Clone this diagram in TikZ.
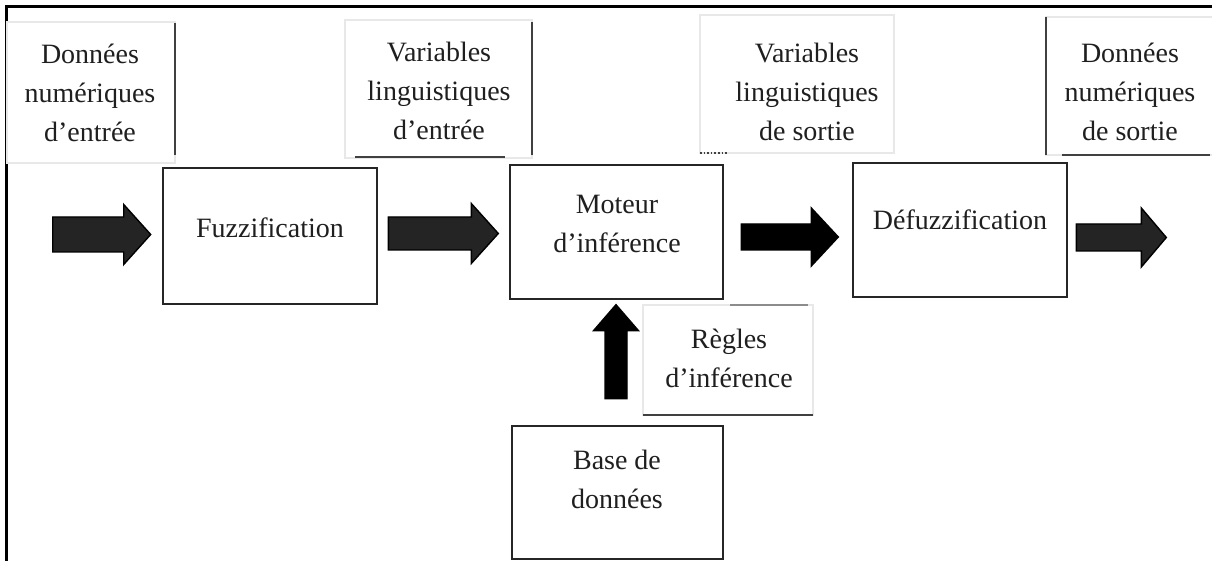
\documentclass[tikz,border=0pt]{standalone}
\usepackage{fontspec}
\setmainfont{Liberation Serif}
\usetikzlibrary{calc}

% block arrow pointing right: start, length, half body, half head, head length
\newcommand\blockarrowR[6][]{%
  \filldraw[blockarrow, #1, shift={(#2)}] (0,-#4) -- (#3-#6,-#4) -- (#3-#6,-#5) -- (#3,0)
    -- (#3-#6,#5) -- (#3-#6,#4) -- (0,#4) -- cycle;}
% block arrow pointing up: base centre, length, half body, half head, head length
\newcommand\blockarrowU[6][]{%
  \filldraw[blockarrow, #1, shift={(#2)}] (-#4,0) -- (-#4,-#3+#6) -- (-#5,-#3+#6) -- (0,-#3)
    -- (#5,-#3+#6) -- (#4,-#3+#6) -- (#4,0) -- cycle;}

\tikzset{
  txt/.style={font=\fontsize{28}{39}\selectfont, text=black!88, align=center, inner sep=0pt},
  mainbox/.style={draw=black!85, line width=2.6pt, fill=white, inner sep=0pt},
  faintbox/.style={draw=black!9, line width=1.2pt},
  darkedge/.style={draw=black!75, line width=1.6pt},
  blockarrow/.style={fill=black!86, draw=black, line width=1.4pt, line join=miter},
  solidarrow/.style={fill=black},
}

\begin{document}
\begin{tikzpicture}[x=1pt, y=-1pt]
\useasboundingbox (0,0) rectangle (1212,561);
\fill[white] (0,0) rectangle (1212,561);

% outer frame (top and left sides)
\draw[line width=2.6pt, black] (6.7,562) -- (6.7,6.7) -- (1213,6.7);

% ---- label frames above the chain ----
\draw[faintbox] (7,22) rectangle (175,163);
\draw[darkedge] (175,23) -- (175,155);
\node[txt] (din) at (90,93) {Données\\numériques\\d’entrée};

\draw[faintbox] (345,20) rectangle (532,158);
\draw[darkedge] (532,22) -- (532,155);
\draw[darkedge] (355,157) -- (505,157);
\node[txt] (vle) at (439,91) {Variables\\linguistiques\\d’entrée};

\draw[faintbox] (700,15) rectangle (894,153);
\draw[darkedge, dotted] (700,153) -- (728,153);
\node[txt] (vls) at (807,91.5) {Variables\\linguistiques\\de sortie};

\draw[faintbox] (1046,17) rectangle (1214,155);
\draw[darkedge] (1046,17) -- (1046,155);
\draw[darkedge] (1062,155) -- (1210,155);
\node[txt] (dns) at (1130,91.5) {Données\\numériques\\de sortie};

% ---- processing chain ----
\node[mainbox, minimum width=214, minimum height=136] (fuzz) at (270,236) {};
\node[txt] (fuzzt) at (270,228) {Fuzzification};

\node[mainbox, minimum width=213, minimum height=134] (mot) at (616.5,232) {};
\node[txt] (mott) at (617,224) {Moteur\\d’inférence};

\node[mainbox, minimum width=214, minimum height=134] (defz) at (960,230) {};
\node[txt] (defzt) at (960,220) {Défuzzification};

\node[mainbox, minimum width=211, minimum height=133] (base) at (617.5,492.5) {};
\node[txt] (baset) at (617,479) {Base de\\données};

% rules label frame
\draw[faintbox] (643,305) rectangle (813,415);
\draw[darkedge, black!45] (730,305) -- (808,305);
\draw[darkedge] (643,415) -- (813,415);
\node[txt] (regt) at (729,358) {Règles\\d’inférence};

% ---- block arrows between the stages ----
\coordinate (a1) at ($(fuzz.west)+(-109,-1.5)$);
\coordinate (a2) at ($(fuzz.east)+(10,-2.5)$);
\coordinate (a3) at ($(mot.east)+(17,5)$);
\coordinate (a4) at ($(defz.east)+(8,7.5)$);
\coordinate (a5) at ($(base.north)+(-1.5,-26)$);

\blockarrowR{a1}{98}{17.5}{30}{27}
\blockarrowR{a2}{110}{16.5}{30}{27}
\blockarrowR[solidarrow]{a3}{97}{13}{29}{27}
\blockarrowR{a4}{90}{13.5}{29.5}{25}
\blockarrowU[solidarrow]{a5}{94}{11}{22.5}{26}
\end{tikzpicture}
\end{document}
